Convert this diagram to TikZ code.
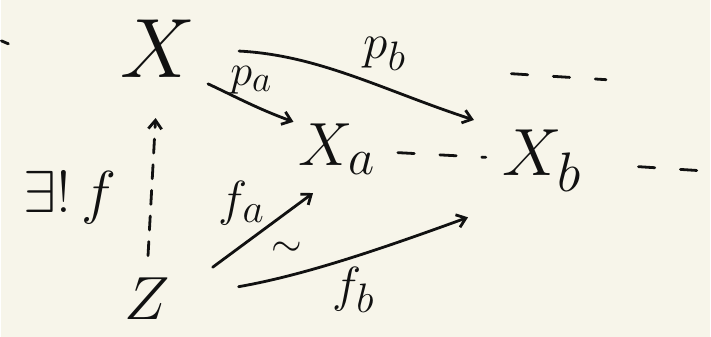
\documentclass[tikz,border=0pt]{standalone}
\usepackage{amsmath,amssymb}
\usepackage{xcolor}
\usepackage{tikz}
\usetikzlibrary{arrows.meta,positioning,calc}
\definecolor{paper}{HTML}{F7F5EA}
\definecolor{ink}{HTML}{111111}
\tikzset{
  >={Straight Barb[length=2.6mm,width=4mm]},
  obj/.style={font=\Huge,text=ink,inner sep=0pt},
  lbl/.style={font=\Huge,text=ink,scale=1.7,inner sep=1pt},
  map/.style={->,line width=2.4pt,draw=ink,line cap=round},
  dmap/.style={map,dash pattern=on 12pt off 10pt},
  trail/.style={line width=2.4pt,draw=ink,line cap=round,dash pattern=on 14pt off 22pt}
}
\begin{document}
\begin{tikzpicture}[x=0.3mm,y=0.3mm]
  \fill[paper] (0,0) rectangle (711,338);

  % objects
  \node[obj,scale=2.9] (X) at (157,289) {$X$};
  \node[obj,scale=2.1] (Xa) at (337,188) {$X_a$};
  \node[obj,scale=2.3] (Xb) at (543,177) {$X_b$};
  \node[obj,scale=2.1] (Z) at (146,38) {$Z$};

  % projections
  \draw[map,shorten <=4mm,shorten >=1.5mm] (X.south east) to[out=-25,in=160]
    node[lbl,scale=.9,above=2.5mm,pos=.55,inner sep=0pt]{$p_a$} (Xa.north west);
  \draw[map,shorten <=13mm,shorten >=9mm] (X.east) to[out=-3,in=162]
    node[lbl,above=4mm,pos=.62]{$p_b$} (Xb.north west);

  % cone from Z and the unique map
  \draw[dmap,shorten <=6.6mm,shorten >=12mm] (Z.north) -- (X.south)
    node[lbl,scale=1.2,left=9mm,pos=.4]{$\exists!\,f$};
  \draw[map,shorten <=16mm,shorten >=9mm] (Z.east) -- (Xa.south)
    node[lbl,above=5mm,pos=.43]{$f_a$}
    node[lbl,scale=.8,below=8mm,pos=.7]{$\sim$};
  \draw[map,shorten <=21mm,shorten >=11mm] (Z.east) to[out=10,in=200]
    node[lbl,below=2mm,pos=.55]{$f_b$} ([yshift=-4mm]Xb.south west);

  % the rest of the diagram
  \coordinate (rgt) at (711,166);
  \coordinate (topA) at (512,264);
  \coordinate (topB) at (607,258);
  \coordinate (lftA) at (0,297);
  \coordinate (lftB) at (7,294);
  \draw[trail,shorten <=6.6mm,shorten >=5mm] (Xa) -- (Xb);
  \draw[trail,shorten <=17mm] (Xb) -- (rgt);
  \draw[trail] (topA) -- (topB);
  \draw[line width=2.4pt,draw=ink,line cap=round] (lftA) -- (lftB);
\end{tikzpicture}
\end{document}
